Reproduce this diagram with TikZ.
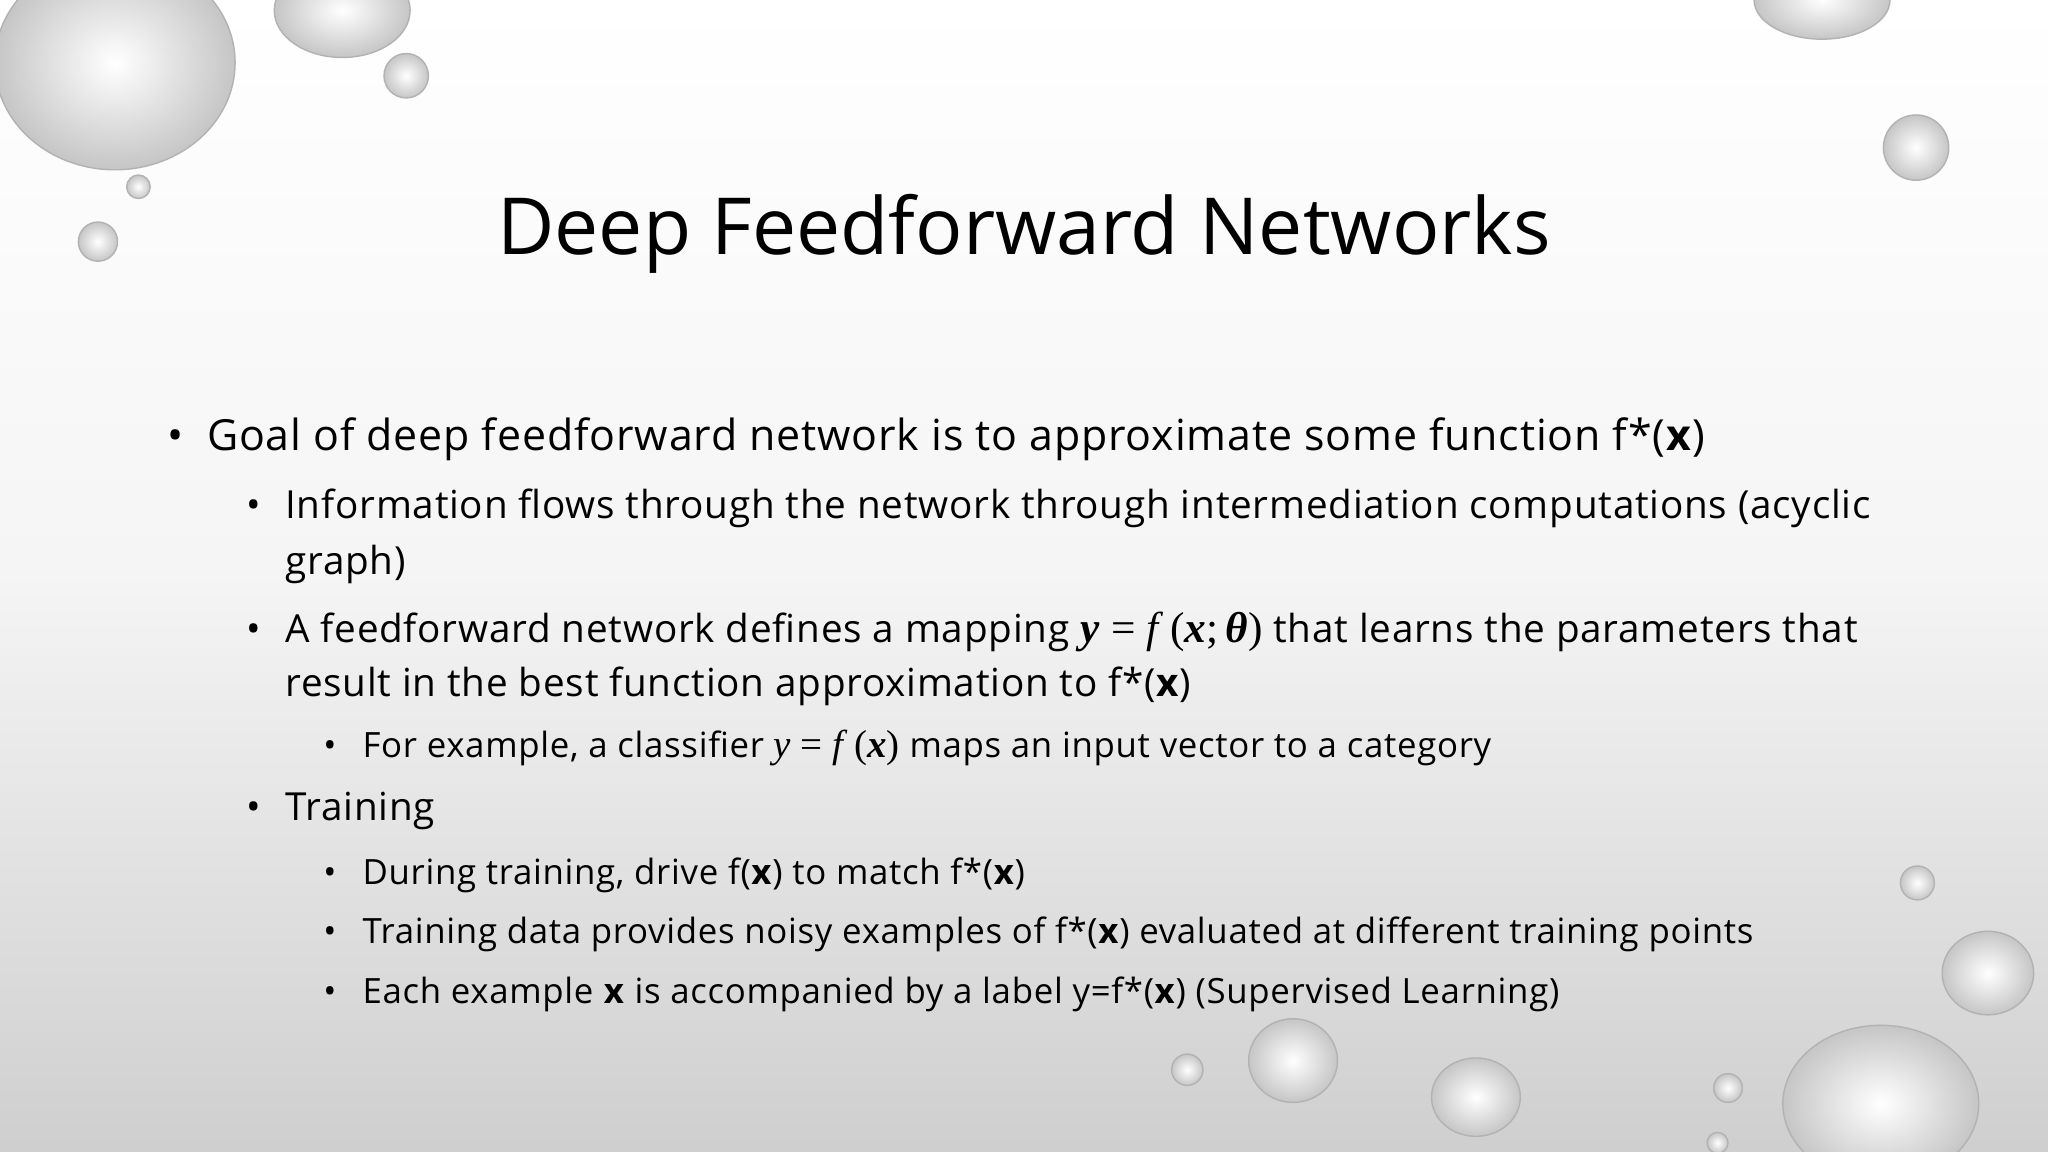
\documentclass[tikz,border=0pt]{standalone}
\usepackage{fontspec}
\setmainfont{Open Sans}
\newfontfamily\bodyf[LetterSpace=2]{Open Sans}
\newfontfamily\mf[Scale=1.12]{Liberation Serif}
\begin{document}
\begin{tikzpicture}[x=0.013061cm,y=-0.013061cm,
  drop/.style={inner color=white,outer color=gray!45,draw=gray!60,line width=0.4pt},
  l1/.style={anchor=base west,inner sep=0,font=\bodyf\fontsize{12.2}{14}\selectfont},
  l2/.style={anchor=base west,inner sep=0,font=\bodyf\fontsize{11}{13}\selectfont},
  l3/.style={anchor=base west,inner sep=0,font=\bodyf\fontsize{9.9}{12}\selectfont}]
\useasboundingbox (0,0) rectangle (1568,882);
\shade[top color=white,bottom color=gray!38,middle color=white!92!gray] (0,0) rectangle (1568,882);
\begin{scope}
\clip (0,0) rectangle (1568,882);
\shade[drop] (88,48) ellipse (92 and 82);
\shade[drop] (262,8) ellipse (52 and 36);
\shade[drop] (311,58) circle (17);
\shade[drop] (106,143) circle (9);
\shade[drop] (75,185) circle (15);
\shade[drop] (1395,0) ellipse (52 and 30);
\shade[drop] (1467,113) circle (25);
\shade[drop] (1468,676) circle (13);
\shade[drop] (1522,745) ellipse (35 and 32);
\shade[drop] (1440,845) ellipse (75 and 60);
\shade[drop] (990,812) ellipse (34 and 32);
\shade[drop] (909,819) circle (12);
\shade[drop] (1130,840) ellipse (34 and 30);
\shade[drop] (1323,833) circle (11);
\shade[drop] (1315,875) circle (8);
\end{scope}
\node[anchor=base,inner sep=0,font=\fontsize{22.4}{26}\selectfont] (title) at (784,195) {Deep Feedforward Networks};
\node[l1] (b1) at (128,345) {•};
\node[l1] (t1) at (158,345) {Goal of deep feedforward network is to approximate some function f*(\textbf{x})};
\node[l2] (b2) at (188,397) {•};
\node[l2] (t2) at (218,397) {Information flows through the network through intermediation computations (acyclic};
\node[l2] (t2b) at (218,440) {graph)};
\node[l2] (b3) at (188,492) {•};
\node[l2] (t3) at (218,492) {A feedforward network defines a mapping {\mf\textbf{\textit{y}} = \textit{f}\,(\textbf{\textit{x}};\,\textbf{\textit{θ}})} that learns the parameters that};
\node[l2] (t3b) at (218,533) {result in the best function approximation to f*(\textbf{x})};
\node[l3] (b4) at (247,580) {•};
\node[l3] (t4) at (277,580) {For example, a classifier {\mf\textit{y} = \textit{f}\,(\textbf{\textit{x}})} maps an input vector to a category};
\node[l2] (b5) at (188,628) {•};
\node[l2] (t5) at (218,628) {Training};
\node[l3] (b6) at (247,677) {•};
\node[l3] (t6) at (277,677) {During training, drive f(\textbf{x}) to match f*(\textbf{x})};
\node[l3] (b7) at (247,722) {•};
\node[l3] (t7) at (277,722) {Training data provides noisy examples of f*(\textbf{x}) evaluated at different training points};
\node[l3] (b8) at (247,768) {•};
\node[l3] (t8) at (277,768) {Each example \textbf{x} is accompanied by a label y=f*(\textbf{x}) (Supervised Learning)};
\end{tikzpicture}
\end{document}
